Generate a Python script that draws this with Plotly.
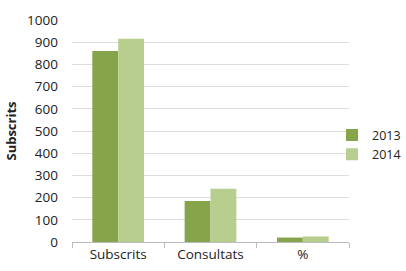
import plotly.graph_objects as go

categories = ["Subscrits", "Consultats", "%"]
series_names = ["2013", "2014"]
values_2013 = [860, 185, 20]
values_2014 = [915, 240, 25]
colors = ["#86A54A", "#B7CE8F"]

fig = go.Figure()
for name, vals, c in zip(series_names, [values_2013, values_2014], colors):
    fig.add_trace(go.Bar(x=categories, y=vals, name=name, marker_color=c,
                         marker_line_width=0))

fig.update_layout(
    width=406, height=271,
    margin=dict(l=72, r=57, t=20, b=29, autoexpand=False),
    paper_bgcolor="white", plot_bgcolor="white",
    barmode="group", bargap=0.44, bargroupgap=0,
    font=dict(family="Open Sans", size=13.5, color="#222222"),
    showlegend=True,
    legend=dict(xref="container", yref="container", x=1.0, y=0.465,
                yanchor="middle", xanchor="right",
                font=dict(size=12.5), itemwidth=30, tracegroupgap=0,
                bgcolor="rgba(0,0,0,0)"),
)
fig.update_xaxes(showline=True, linecolor="#BBBBBB", linewidth=1,
                 ticks="outside", tickson="boundaries", ticklen=5,
                 tickcolor="#BBBBBB", showgrid=False)
fig.update_yaxes(range=[0, 1000], dtick=100, showgrid=True,
                 gridcolor="#DDDDDD", gridwidth=1, zeroline=False,
                 showline=False, ticks="", ticklabelstandoff=13,
                 title=dict(text="<b>Subscrits</b>", font=dict(size=13),
                            standoff=7))

fig.write_html("out.html", config={"displayModeBar": False},
               post_script="document.body.style.margin='0';document.body.style.overflow='hidden';")
